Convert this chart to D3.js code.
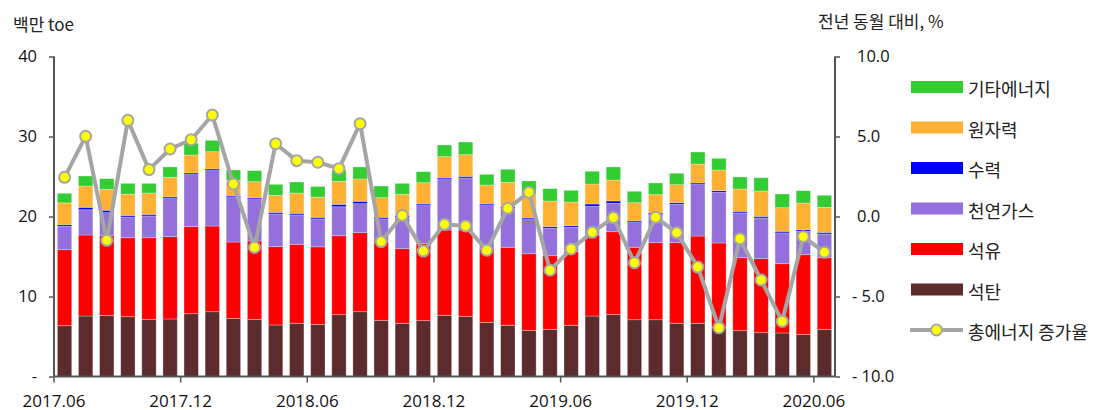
<!DOCTYPE html>
<html><head><meta charset="utf-8">
<script src="https://cdn.jsdelivr.net/npm/d3@7"></script>
<style>
html,body{margin:0;padding:0;background:#fff;}
svg{display:block;}
text{font-family:"Open Sans","Noto Sans CJK KR",sans-serif;}
.kr{font-family:"Noto Sans CJK KR","Noto Sans",sans-serif;}
</style></head>
<body>
<svg id="c" width="1110" height="410"></svg>
<script>
const months = ["2017.06","2017.07","2017.08","2017.09","2017.10","2017.11","2017.12",
"2018.01","2018.02","2018.03","2018.04","2018.05","2018.06","2018.07","2018.08","2018.09","2018.10","2018.11","2018.12",
"2019.01","2019.02","2019.03","2019.04","2019.05","2019.06","2019.07","2019.08","2019.09","2019.10","2019.11","2019.12",
"2020.01","2020.02","2020.03","2020.04","2020.05","2020.06"];
const tickLabels = ["2017.06","2017.12","2018.06","2018.12","2019.06","2019.12","2020.06"];

const coal    = [6.35,7.56,7.64,7.48,7.15,7.19,7.85,8.10,7.27,7.15,6.44,6.65,6.52,7.73,8.10,7.02,6.65,6.98,7.65,7.52,6.77,6.40,5.77,5.90,6.40,7.56,7.77,7.10,7.10,6.65,6.65,6.10,5.73,5.48,5.44,5.27,5.90];
const oil     = [9.50,10.13,9.96,9.87,10.20,10.29,10.88,10.71,9.54,9.79,9.79,9.87,9.69,9.87,9.88,9.83,9.33,9.67,10.66,10.79,9.25,9.75,9.58,9.20,9.20,10.13,10.33,9.05,9.63,10.08,10.91,10.59,9.12,9.25,8.66,9.96,8.95];
const gas     = [2.95,3.16,2.88,2.59,2.72,4.76,6.51,6.93,5.55,5.17,4.09,3.68,3.49,3.62,3.62,2.85,3.96,4.71,6.30,6.51,5.34,4.88,4.26,3.43,3.05,3.57,3.54,3.09,3.51,4.80,6.43,6.34,5.60,5.09,3.85,2.92,2.97];
const hydro   = [0.20,0.30,0.30,0.20,0.20,0.20,0.20,0.20,0.20,0.20,0.20,0.20,0.20,0.30,0.30,0.20,0.20,0.20,0.20,0.20,0.20,0.20,0.20,0.20,0.20,0.30,0.30,0.20,0.20,0.20,0.20,0.20,0.20,0.20,0.20,0.20,0.20];
const nuclear = [2.70,2.66,2.62,2.66,2.67,2.46,2.25,2.16,1.96,2.04,2.13,2.54,2.52,2.88,2.79,2.45,2.63,2.67,2.67,2.71,2.38,3.04,2.96,3.21,2.96,2.50,2.62,2.29,2.29,2.25,2.37,2.58,2.79,3.17,2.95,3.34,3.13];
const other   = [1.20,1.25,1.33,1.34,1.20,1.29,1.46,1.42,1.29,1.38,1.37,1.37,1.33,1.41,1.50,1.46,1.37,1.37,1.46,1.58,1.33,1.63,1.67,1.54,1.46,1.59,1.63,1.42,1.46,1.42,1.50,1.46,1.50,1.66,1.71,1.54,1.50];
const growth  = [2.45,5.01,-1.49,6.01,2.93,4.22,4.80,6.34,2.03,-1.93,4.55,3.49,3.39,2.99,5.80,-1.57,0.07,-2.16,-0.49,-0.59,-2.11,0.51,1.51,-3.36,-2.03,-0.99,-0.07,-2.89,-0.05,-1.01,-3.16,-6.95,-1.39,-3.97,-6.55,-1.26,-2.24];

const seriesKeys   = ["coal","oil","gas","hydro","nuclear","other"];
const seriesNames  = ["석탄","석유","천연가스","수력","원자력","기타에너지"];
const seriesColors = ["#5C2C2C","#FF0000","#9370DB","#0000FF","#FFB133","#33CC33"];
const leftTicks  = [0,10,20,30,40];
const rightTicks = [-10,-5,0,5,10];

const table = months.map((m,i)=>({month:m, coal:coal[i], oil:oil[i], gas:gas[i], hydro:hydro[i], nuclear:nuclear[i], other:other[i], growth:growth[i]}));

const svg = d3.select("#c");
const pL = 54, pR = 835, pT = 56.5, pB = 376.5;

const x = d3.scaleBand().domain(months).range([pL,pR]).paddingInner(0.32).paddingOuter(0.16);
const yL = d3.scaleLinear().domain([0,40]).range([pB,pT]);
const yR = d3.scaleLinear().domain([-10,10]).range([pB,pT]);

const stacked = d3.stack().keys(seriesKeys)(table);

const gBars = svg.append("g");
gBars.selectAll("g").data(stacked).join("g")
  .attr("fill",(d,i)=>seriesColors[i])
  .selectAll("rect").data(d=>d).join("rect")
  .attr("x",d=>x(d.data.month))
  .attr("width",x.bandwidth())
  .attr("y",d=>yL(d[1]))
  .attr("height",d=>yL(d[0])-yL(d[1]))
  .attr("stroke","rgba(255,255,255,0.35)")
  .attr("stroke-width",0.8);

const axisColor = "#555";
const gL = svg.append("g").attr("transform",`translate(${pL},0)`)
  .call(d3.axisLeft(yL).tickValues(leftTicks).tickSize(5).tickPadding(12).tickFormat(d=>d===0?"-":d));
const gR = svg.append("g").attr("transform",`translate(${pR},0)`)
  .call(d3.axisRight(yR).tickValues(rightTicks).tickSize(5).tickPadding(17).tickFormat(d=> d<0 ? "- "+d3.format(".1f")(-d) : d3.format(".1f")(d)));
gR.selectAll(".tick text").attr("dx",d=>d<0?-5:0);

const gB = svg.append("g").attr("transform",`translate(0,${pB})`);
gB.append("line").attr("x1",pL).attr("x2",pR).attr("y1",0).attr("y2",0).attr("stroke",axisColor).attr("stroke-width",2);
const bt = gB.selectAll("g.t").data(tickLabels).join("g").attr("class","t")
  .attr("transform",d=>`translate(${x(d)-x.step()*x.paddingInner()/2},0)`);
bt.append("line").attr("y2",6).attr("stroke",axisColor).attr("stroke-width",1.5);
bt.append("text").attr("y",30).attr("text-anchor","middle").attr("font-size",17).attr("fill","#111").text(d=>d);

[gL,gR].forEach(g=>{
  g.select(".domain").attr("stroke",axisColor).attr("stroke-width",2).attr("d",`M0,${pT}V${pB}`);
  g.selectAll(".tick line").attr("stroke",axisColor).attr("stroke-width",1.5);
  g.selectAll(".tick text").attr("font-size",16.5).attr("fill","#111").attr("font-family","Open Sans, sans-serif");
});

const cx = d=>x(d.month)+x.bandwidth()/2;
svg.append("path").datum(table)
  .attr("fill","none").attr("stroke","#A5A5A5").attr("stroke-width",4).attr("stroke-linejoin","round")
  .attr("d",d3.line().x(cx).y(d=>yR(d.growth)));
svg.append("g").selectAll("circle").data(table).join("circle")
  .attr("cx",cx).attr("cy",d=>yR(d.growth)).attr("r",5.5)
  .attr("fill","#FFFF00").attr("stroke","#A5A5A5").attr("stroke-width",2);

svg.append("text").attr("class","kr").attr("x",13).attr("y",31).attr("font-size",17).attr("fill","#222").text("백만 toe");
svg.append("text").attr("class","kr").attr("x",818).attr("y",28).attr("font-size",17).attr("fill","#222").text("전년 동월 대비, %");

const legendItems = [5,4,3,2,1,0].map(i=>({name:seriesNames[i], color:seriesColors[i]}));
const lg = svg.append("g");
const ly0 = 87, ldy = 40.5;
legendItems.forEach((d,j)=>{
  const yy = ly0 + j*ldy;
  lg.append("rect").attr("x",911).attr("y",yy-6).attr("width",52).attr("height",12).attr("fill",d.color);
  lg.append("text").attr("class","kr").attr("x",968).attr("y",yy+1).attr("dominant-baseline","central")
    .attr("font-size",18).attr("fill","#222").text(d.name);
});
const yl = ly0 + 6*ldy;
lg.append("line").attr("x1",910).attr("x2",963).attr("y1",yl).attr("y2",yl).attr("stroke","#A5A5A5").attr("stroke-width",4);
lg.append("circle").attr("cx",936.5).attr("cy",yl).attr("r",5.5).attr("fill","#FFFF00").attr("stroke","#A5A5A5").attr("stroke-width",2);
lg.append("text").attr("class","kr").attr("x",968).attr("y",yl+1).attr("dominant-baseline","central")
  .attr("font-size",18).attr("fill","#222").text("총에너지 증가율");
</script>
</body></html>
